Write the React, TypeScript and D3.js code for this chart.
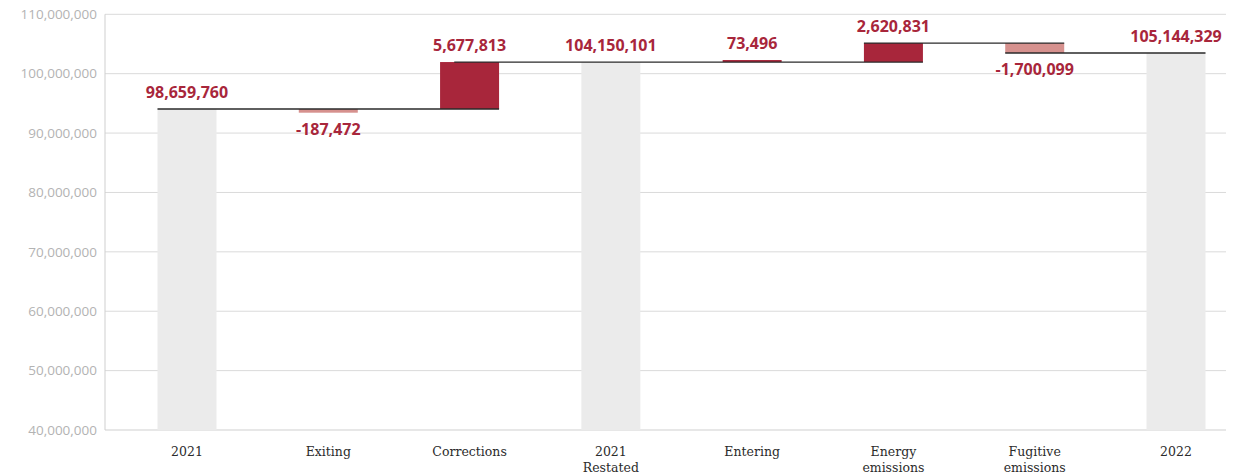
import React from "react";
import * as d3 from "d3";

const categories = [
  "2021",
  "Exiting",
  "Corrections",
  "2021 Restated",
  "Entering",
  "Energy emissions",
  "Fugitive emissions",
  "2022",
];
const labelValues = [98659760, -187472, 5677813, 104150101, 73496, 2620831, -1700099, 105144329];
const kinds = ["total", "neg", "pos", "total", "pos", "pos", "neg", "total"];
// bar extents as drawn in the picture
const barStart = [40e6, 94.05e6, 94.05e6, 40e6, 101.96e6, 101.96e6, 105.16e6, 40e6];
const barEnd = [94.05e6, 93.43e6, 101.96e6, 101.96e6, 102.3e6, 105.16e6, 103.48e6, 103.48e6];
// connector lines: level, from category index, to category index, start offset (fraction of bar)
const connLevel = [94.05e6, 101.96e6, 105.16e6, 103.48e6];
const connFrom = [0, 2, 5, 6];
const connTo = [2, 5, 6, 7];
const connStartFrac = [0, 0.24, 0, 0];
const yTicks = [40e6, 50e6, 60e6, 70e6, 80e6, 90e6, 100e6, 110e6];

const W = 1233;
const H = 475;
const left = 105;
const right = 1226;
const top = 14.3;
const bottom = 430;
const barW = 59;

const colors: Record<string, string> = {
  total: "#ebebeb",
  pos: "#a8263b",
  neg: "#d6918e",
};
const labelColor = "#a8263b";

const locale = d3.formatLocale({
  decimal: ".",
  thousands: ",",
  grouping: [3],
  currency: ["", ""],
  minus: "-",
});

export default function App() {
  const y = d3.scaleLinear().domain([40e6, 110e6]).range([bottom, top]);
  const x = d3.scalePoint<string>().domain(categories).range([187, 1176]);
  const fmt = locale.format(",");

  return (
    <svg
      width={W}
      height={H}
      style={{ position: "absolute", left: 0, top: 0, background: "#fff" }}
    >
      {/* grid */}
      {yTicks.map((t) => (
        <line
          key={"g" + t}
          x1={left}
          x2={right}
          y1={y(t)}
          y2={y(t)}
          stroke={t === 40e6 ? "#cfcfcf" : "#dadada"}
          strokeWidth={1}
        />
      ))}
      <line x1={left} x2={left} y1={top} y2={bottom} stroke="#cfcfcf" strokeWidth={1} />
      {yTicks.map((t) => (
        <text
          key={"t" + t}
          x={97}
          y={y(t)}
          dy="0.35em"
          textAnchor="end"
          fontFamily="'Open Sans', sans-serif"
          fontSize={13.5}
          fill="#b3b3b3"
        >
          {fmt(t)}
        </text>
      ))}
      {/* bars */}
      {categories.map((c, i) => {
        const y0 = y(Math.max(barStart[i], barEnd[i]));
        const y1 = y(Math.min(barStart[i], barEnd[i]));
        return (
          <rect
            key={"b" + c}
            x={(x(c) as number) - barW / 2}
            y={y0}
            width={barW}
            height={Math.max(1, y1 - y0)}
            fill={colors[kinds[i]]}
          />
        );
      })}
      {/* connectors */}
      {connLevel.map((lv, k) => {
        const x1 = (x(categories[connFrom[k]]) as number) - barW / 2 + barW * connStartFrac[k];
        const x2 = (x(categories[connTo[k]]) as number) + barW / 2;
        return (
          <line
            key={"c" + k}
            x1={x1}
            x2={x2}
            y1={y(lv)}
            y2={y(lv)}
            stroke="#2a2a2a"
            strokeWidth={1.3}
          />
        );
      })}
      {/* value labels */}
      {categories.map((c, i) => {
        const neg = kinds[i] === "neg";
        const yy = neg
          ? y(Math.min(barStart[i], barEnd[i])) + 22
          : y(Math.max(barStart[i], barEnd[i])) - 11;
        return (
          <text
            key={"l" + c}
            x={x(c) as number}
            y={yy}
            textAnchor="middle"
            fontFamily="'Open Sans', sans-serif"
            fontWeight={700}
            fontSize={16}
            fill={labelColor}
          >
            {fmt(labelValues[i])}
          </text>
        );
      })}
      {/* category labels */}
      {categories.map((c) => {
        const words = c.split(" ");
        const lines = words.length > 1 ? [words[0], words.slice(1).join(" ")] : [c];
        return (
          <text
            key={"x" + c}
            x={x(c) as number}
            y={456}
            textAnchor="middle"
            fontFamily="'DejaVu Serif', serif"
            fontSize={12.5}
            fill="#2b2b2b"
          >
            {lines.map((ln, j) => (
              <tspan key={j} x={x(c) as number} dy={j === 0 ? 0 : 16}>
                {ln}
              </tspan>
            ))}
          </text>
        );
      })}
    </svg>
  );
}
